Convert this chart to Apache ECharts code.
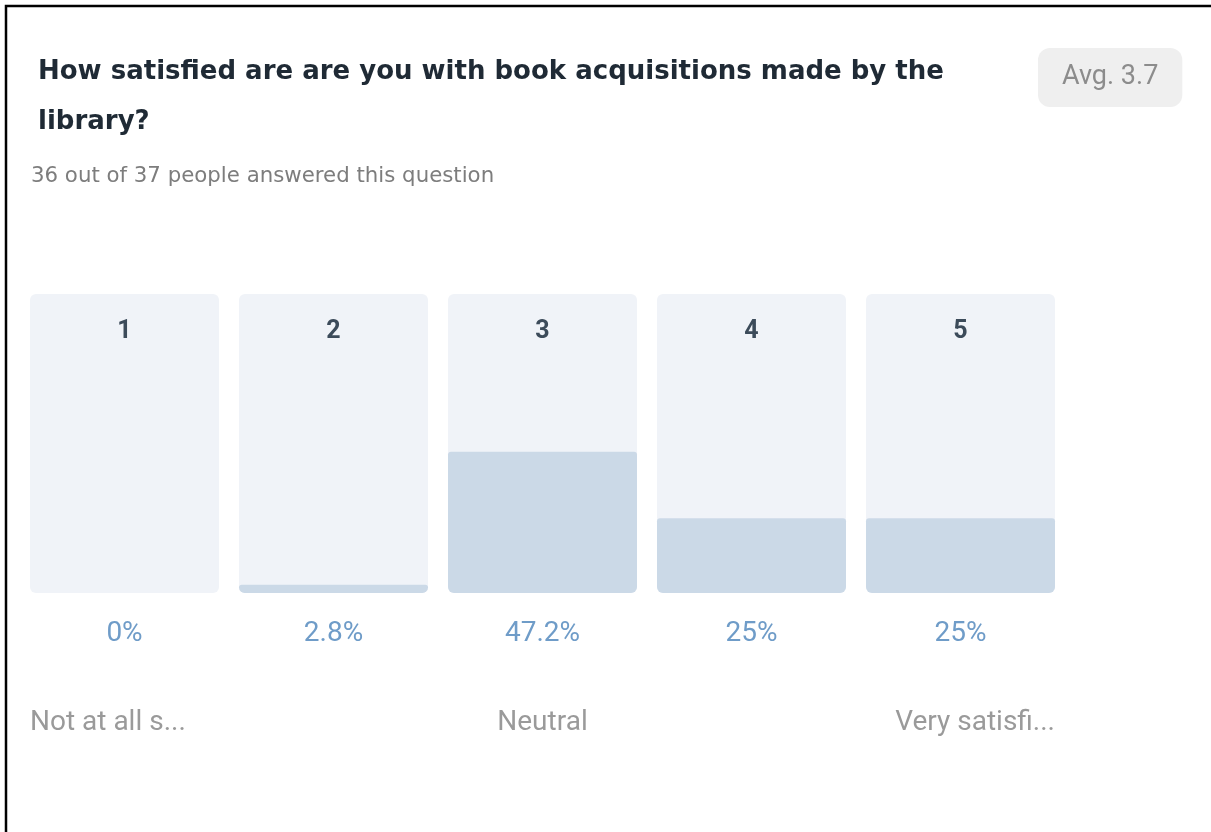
<!DOCTYPE html>
<html>
<head>
<meta charset="utf-8">
<script src="https://cdn.jsdelivr.net/npm/echarts@6/dist/echarts.min.js"></script>
<style>
html, body { margin: 0; padding: 0; background: #fff; }
#chart { width: 1211px; height: 832px; }
</style>
</head>
<body>
<div id="chart"></div>
<script>
// rating scale data
const ratings = ['1', '2', '3', '4', '5']
const shares = [0, 2.8, 47.2, 25, 25]
const scaleLabels = ['Not at all s...', '', 'Neutral', '', 'Very satisfi...']
const questionText = 'How satisfied are are you with book acquisitions made by the\nlibrary?'
const answeredText = '36 out of 37 people answered this question'
const averageText = 'Avg. 3.7'

const barWidth = 189
const chart = echarts.init(document.getElementById('chart'))

const frame = {
  type: 'polyline',
  silent: true,
  shape: { points: [[6, 832], [6, 6], [1211, 6]] },
  style: { stroke: '#000', lineWidth: 2.5, fill: null }
}

chart.setOption({
  animation: false,
  backgroundColor: '#fff',
  title: [
    {
      text: questionText,
      left: 38,
      top: 47,
      padding: 0,
      textStyle: { fontFamily: 'DejaVu Sans', fontSize: 26, fontWeight: 'bold', color: '#1f2a35', lineHeight: 50 }
    },
    {
      text: answeredText,
      left: 31,
      top: 166,
      padding: 0,
      textStyle: { fontFamily: 'DejaVu Sans', fontSize: 21.3, fontWeight: 400, color: '#7d7d7d' }
    },
    {
      text: averageText,
      left: 1038,
      top: 48,
      padding: [16, 24, 16, 24],
      backgroundColor: '#efefef',
      borderRadius: 12,
      textStyle: { fontFamily: 'Roboto', fontSize: 27, fontWeight: 400, color: '#8c8c8c' }
    }
  ],
  grid: { left: 20, top: 294, width: 1045, height: 299, containLabel: false },
  xAxis: [
    {
      type: 'category',
      data: ratings,
      position: 'bottom',
      z: 5,
      axisLine: { show: false },
      axisTick: { show: false },
      axisLabel: {
        margin: 27,
        fontFamily: 'Roboto',
        fontSize: 28,
        color: '#6f9cc8',
        formatter: (v, i) => shares[i] + '%'
      }
    },
    {
      type: 'category',
      data: ratings,
      position: 'top',
      z: 5,
      axisLine: { show: false },
      axisTick: { show: false },
      axisLabel: {
        inside: true,
        margin: 25,
        fontFamily: 'Roboto',
        fontSize: 25,
        fontWeight: 'bold',
        color: '#3c4b5a'
      }
    }
  ],
  yAxis: { type: 'value', min: 0, max: 100, show: false },
  series: [
    {
      type: 'bar',
      data: shares,
      barWidth: barWidth,
      showBackground: true,
      backgroundStyle: { color: '#f0f3f8', borderRadius: 6 },
      itemStyle: { color: '#cbd9e7', borderRadius: [3, 3, 6, 6] }
    }
  ],
  graphic: [frame]
})

// scale end labels sit under the first, middle and last bars
const scaleTexts = []
scaleLabels.forEach((txt, i) => {
  if (!txt) return
  const cx = chart.convertToPixel({ xAxisIndex: 0 }, ratings[i])
  let x = cx
  let align = 'center'
  if (i === 0) { x = cx - barWidth / 2; align = 'left' }
  else if (i === ratings.length - 1) { x = cx + barWidth / 2; align = 'right' }
  scaleTexts.push({
    type: 'text',
    silent: true,
    x: x,
    y: 723,
    style: { text: txt, align: align, verticalAlign: 'middle', fontFamily: 'Roboto', fontSize: 28, fill: '#9a9a9a' }
  })
})
chart.setOption({ graphic: [frame].concat(scaleTexts) })
</script>
</body>
</html>
